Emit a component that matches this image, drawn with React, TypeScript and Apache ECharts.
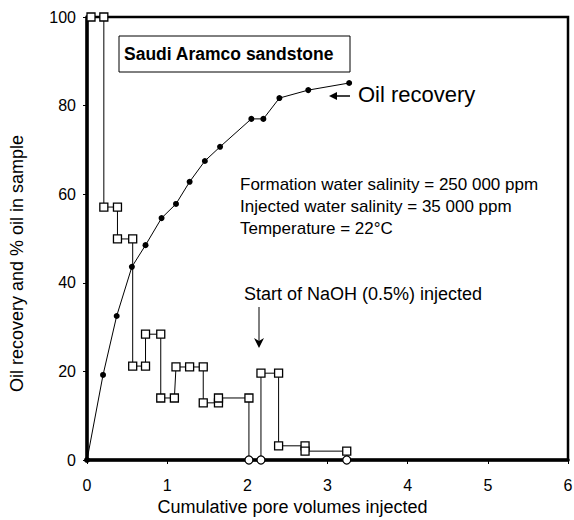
import React, { useEffect, useRef } from "react";
import * as echarts from "echarts";

// Oil recovery (filled dots)
const recoveryX = [0, 0.2, 0.37, 0.56, 0.73, 0.93, 1.11, 1.28, 1.47, 1.66, 2.05, 2.2, 2.4, 2.76, 3.27];
const recoveryY = [0, 19.2, 32.5, 43.6, 48.5, 54.6, 57.8, 62.8, 67.5, 70.7, 77.0, 77.0, 81.7, 83.5, 85.1];

// % oil in sample (open squares, step pattern)
const sampleX = [0.05, 0.21, 0.21, 0.38, 0.38, 0.57, 0.57, 0.73, 0.73, 0.92, 0.92, 1.09, 1.11, 1.28, 1.45, 1.45, 1.64, 1.64, 2.02, 2.02, 2.17, 2.17, 2.39, 2.39, 2.72, 2.72, 3.24, 3.24];
const sampleY = [100, 100, 57.1, 57.1, 49.9, 49.9, 21.2, 21.2, 28.4, 28.4, 14, 14, 21, 21, 21, 12.9, 12.9, 14, 14, 0, 0, 19.6, 19.6, 3.2, 3.2, 2.0, 2.0, 0];

const xTicks = [0, 1, 2, 3, 4, 5, 6];
const yTicks = [0, 20, 40, 60, 80, 100];

const FONT = "Liberation Sans, Arial, Helvetica, sans-serif";

export default function App() {
  const ref = useRef<HTMLDivElement>(null);
  useEffect(() => {
    if (!ref.current) return;
    const chart = echarts.init(ref.current, null, { renderer: "svg" });
    const recoveryData = recoveryX.map((x, i) => [x, recoveryY[i]]);
    const sampleData = sampleX.map((x, i) => ({
      value: [x, sampleY[i]],
      symbol: sampleY[i] === 0 ? "circle" : "rect",
    }));
    chart.setOption({
      animation: false,
      backgroundColor: "#ffffff",
      textStyle: { fontFamily: FONT },
      grid: {
        left: 87,
        right: 6,
        top: 17,
        bottom: 60,
        show: true,
        borderColor: "#000",
        borderWidth: 2.5,
        backgroundColor: "transparent",
        outerBoundsMode: "none",
        containLabel: false,
      },
      xAxis: {
        type: "value",
        min: xTicks[0],
        max: xTicks[xTicks.length - 1],
        interval: 1,
        axisLine: { show: true, onZero: false, lineStyle: { color: "#000", width: 3.5 } },
        axisTick: { show: true, inside: false, length: 4, lineStyle: { color: "#000", width: 1 } },
        axisLabel: { color: "#000", fontSize: 16, margin: 17, fontFamily: FONT },
        splitLine: { show: false },
        name: "Cumulative pore volumes injected",
        nameLocation: "middle",
        nameGap: 36,
        nameTextStyle: { color: "#000", fontSize: 18, fontFamily: FONT, padding: [0, 70, 0, 0] },
      },
      yAxis: {
        type: "value",
        min: yTicks[0],
        max: yTicks[yTicks.length - 1],
        interval: 20,
        axisLine: { show: true, onZero: false, lineStyle: { color: "#000", width: 3.5 } },
        axisTick: { show: true, inside: false, length: 4, lineStyle: { color: "#000", width: 1 } },
        axisLabel: { color: "#000", fontSize: 16, margin: 11, fontFamily: FONT },
        splitLine: { show: false },
        name: "Oil recovery and % oil in sample",
        nameLocation: "middle",
        nameGap: 61,
        nameTextStyle: { color: "#000", fontSize: 18, fontFamily: FONT, padding: [0, 50, 0, 0] },
      },
      series: [
        {
          type: "line",
          name: "Oil recovery",
          data: recoveryData,
          symbol: "circle",
          symbolSize: 6,
          itemStyle: { color: "#000" },
          lineStyle: { color: "#000", width: 1 },
          z: 2,
        },
        {
          type: "line",
          name: "% oil in sample",
          data: sampleData,
          symbolSize: 8,
          itemStyle: { color: "#fff", borderColor: "#000", borderWidth: 1.3 },
          lineStyle: { color: "#000", width: 1 },
          z: 3,
        },
      ],
      graphic: [
        {
          type: "rect",
          shape: { x: 119, y: 36, width: 231, height: 36 },
          style: { fill: "#fff", stroke: "#000", lineWidth: 1 },
          z: 10,
        },
        {
          type: "text",
          x: 124,
          y: 54,
          style: {
            text: "Saudi Aramco sandstone",
            font: `bold 17.5px ${FONT}`,
            fill: "#000",
            verticalAlign: "middle",
          },
          z: 11,
        },
        {
          type: "text",
          x: 358,
          y: 94,
          style: {
            text: "Oil recovery",
            font: `22px ${FONT}`,
            fill: "#000",
            verticalAlign: "middle",
          },
          z: 11,
        },
        {
          type: "line",
          shape: { x1: 350, y1: 96, x2: 334, y2: 96 },
          style: { stroke: "#000", lineWidth: 1.5 },
          z: 11,
        },
        {
          type: "polygon",
          shape: { points: [[329, 96], [337, 92], [337, 100]] },
          style: { fill: "#000" },
          z: 11,
        },
        {
          type: "text",
          x: 240,
          y: 184,
          style: {
            text: "Formation water salinity = 250 000 ppm",
            font: `17px ${FONT}`,
            fill: "#000",
            verticalAlign: "middle",
          },
          z: 11,
        },
        {
          type: "text",
          x: 240,
          y: 206,
          style: {
            text: "Injected water salinity = 35 000 ppm",
            font: `17px ${FONT}`,
            fill: "#000",
            verticalAlign: "middle",
          },
          z: 11,
        },
        {
          type: "text",
          x: 240,
          y: 228,
          style: {
            text: "Temperature = 22°C",
            font: `17px ${FONT}`,
            fill: "#000",
            verticalAlign: "middle",
          },
          z: 11,
        },
        {
          type: "text",
          x: 244,
          y: 294,
          style: {
            text: "Start of NaOH (0.5%) injected",
            font: `18px ${FONT}`,
            fill: "#000",
            verticalAlign: "middle",
          },
          z: 11,
        },
        {
          type: "line",
          shape: { x1: 259, y1: 307, x2: 259, y2: 342 },
          style: { stroke: "#000", lineWidth: 1 },
          z: 11,
        },
        {
          type: "polygon",
          shape: { points: [[259, 348], [254, 338], [259, 341], [264, 338]] },
          style: { fill: "#000" },
          z: 11,
        },
      ],
    });
    return () => chart.dispose();
  }, []);
  return (
    <div
      ref={ref}
      style={{ position: "fixed", left: 0, top: 0, width: 574, height: 520, background: "#fff" }}
    />
  );
}
